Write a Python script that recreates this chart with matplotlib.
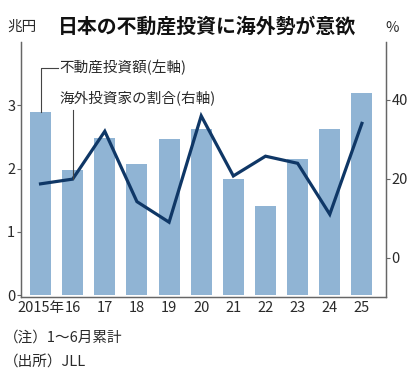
import matplotlib
matplotlib.use("Agg")
import matplotlib.pyplot as plt

plt.rcParams['font.family'] = ['Noto Sans CJK JP', 'DejaVu Sans']

years = ["2015年", "16", "17", "18", "19", "20", "21", "22", "23", "24", "25"]
amount = [2.90, 1.98, 2.49, 2.07, 2.47, 2.62, 1.84, 1.41, 2.15, 2.62, 3.20]
share = [18.7, 19.9, 32.0, 14.2, 9.0, 35.9, 20.7, 25.7, 23.9, 11.0, 34.0]
left_ticks = [0, 1, 2, 3]
right_ticks = [0, 20, 40]

bar_color = "#90b4d4"
line_color = "#0f3766"
spine_color = "#666666"
text_color = "#2a2a2a"

fig = plt.figure(figsize=(4.11, 3.78), dpi=100)
ax = fig.add_axes([0.0504, 0.2156, 0.8888, 0.6734])
ax2 = ax.twinx()

x = list(range(len(years)))
ax.bar(x, amount, width=0.65, color=bar_color, zorder=1)
ax2.plot(x, share, color=line_color, lw=2.3, solid_joinstyle='miter', zorder=3)

ax.set_xlim(-0.616, 10.75)
ax.set_ylim(-0.02, 4.0)
ax2.set_ylim(-9.8, 54.6)

ax.set_xticks(x)
ax.set_xticklabels(years)
ax.set_yticks(left_ticks)
ax2.set_yticks(right_ticks)

for a in (ax, ax2):
    a.spines['top'].set_visible(False)
    for s in ('left', 'right', 'bottom'):
        a.spines[s].set_color(spine_color)
        a.spines[s].set_linewidth(0.9)

ax.tick_params(axis='x', length=0, pad=3, labelsize=10.5, colors=text_color)
ax.tick_params(axis='y', length=3, width=0.8, color=spine_color, pad=1, labelsize=10.5, labelcolor=text_color)
ax2.tick_params(axis='y', length=3, width=0.8, color=spine_color, pad=1, labelsize=10.5, labelcolor=text_color)

# annotations
ylo, yhi = ax.get_ylim()
ylo2, yhi2 = ax2.get_ylim()
f1, f2, f3 = 0.898, 0.78, 0.733
y1 = ylo + f1 * (yhi - ylo)
y2 = ylo + f2 * (yhi - ylo)
tx = 0.60
ax.plot([0, 0, tx - 0.05], [amount[0], y1, y1], color="#444444", lw=0.8, zorder=4)
ax.text(tx, y1, "不動産投資額(左軸)", fontsize=10.5, va='center', ha='left', color=text_color)
ax.text(tx, y2, "海外投資家の割合(右軸)", fontsize=10.5, va='center', ha='left', color=text_color)
y3 = ylo2 + f3 * (yhi2 - ylo2)
ax2.plot([1, 1], [share[1], y3], color="#444444", lw=0.8, zorder=4)

fig.text(0.141, 0.931, "日本の不動産投資に海外勢が意欲", fontsize=14.3, fontweight='bold',
         ha='left', va='center', color="#111111")
fig.text(0.019, 0.929, "兆円", fontsize=10.5, ha='left', va='center', color=text_color)
fig.text(0.937, 0.926, "%", fontsize=10.5, ha='left', va='center', color=text_color)
fig.text(0.010, 0.106, "（注）1〜6月累計", fontsize=10.5, ha='left', va='center', color=text_color)
fig.text(0.010, 0.040, "（出所）JLL", fontsize=10.5, ha='left', va='center', color=text_color)

fig.savefig("out.png", dpi=100)
